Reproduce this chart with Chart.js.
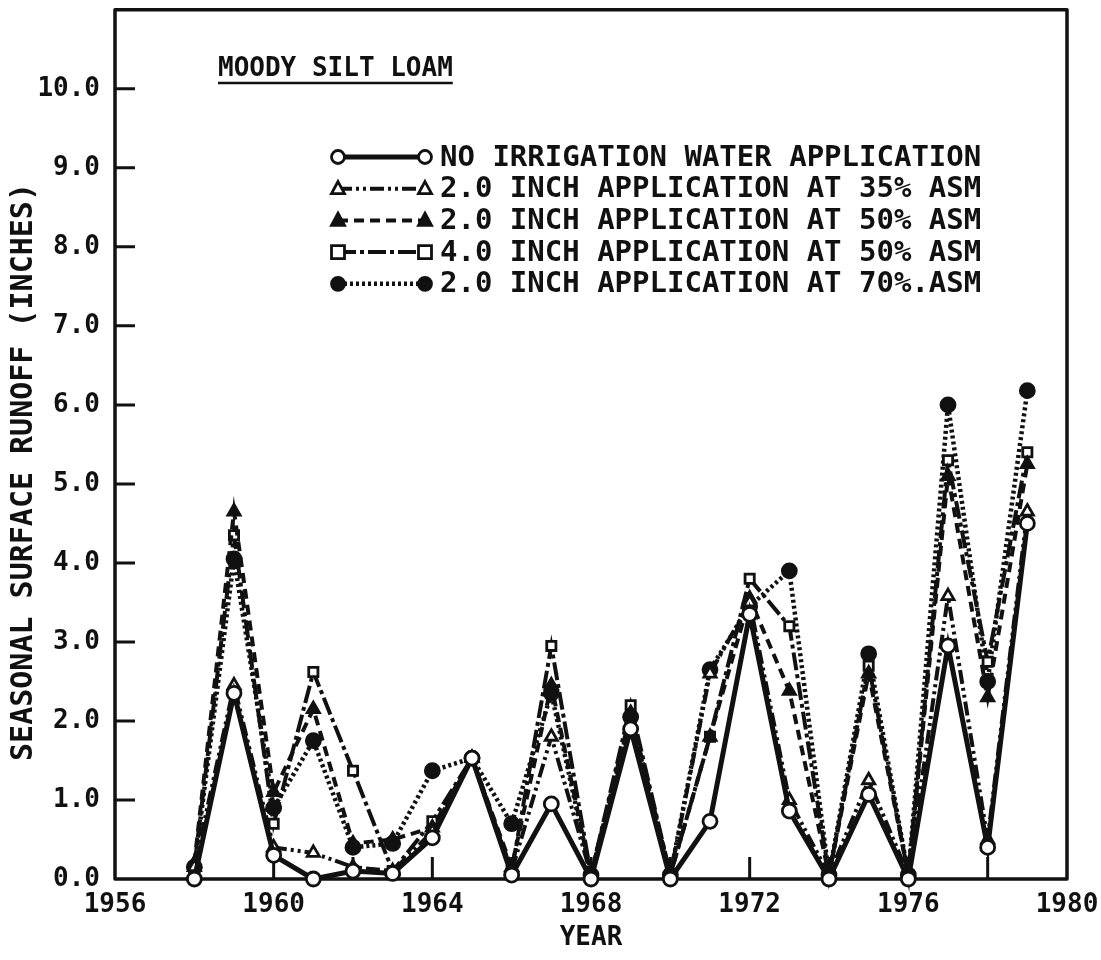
<!DOCTYPE html>
<html>
<head>
  <meta charset="UTF-8" />
  <title>Moody Silt Loam - Seasonal Surface Runoff</title>
  <script src="https://cdn.jsdelivr.net/npm/chart.js"></script>
  <style>
    body {
      margin: 0;
      background: #fff;
    }
  </style>
</head>
<body>
  <canvas id="runoff" width="1101" height="960"></canvas>

  <script>
    // seasonal runoff (inches) per year for each irrigation schedule
    const years = [1958, 1959, 1960, 1961, 1962, 1963, 1964, 1965, 1966, 1967, 1968,
                   1969, 1970, 1971, 1972, 1973, 1974, 1975, 1976, 1977, 1978, 1979];
    const noIrrigation = [0.0, 2.35, 0.3, 0.0, 0.1, 0.07, 0.52, 1.53, 0.05, 0.95, 0.0,
                          1.9, 0.0, 0.73, 3.35, 0.86, 0.0, 1.07, 0.0, 2.95, 0.4, 4.5];
    const twoInch35 = [0.15, 2.45, 0.4, 0.33, 0.15, 0.1, 0.6, 1.53, 0.1, 1.8, 0.05,
                       1.95, 0.05, 2.6, 3.5, 1.0, 0.05, 1.25, 0.05, 3.58, 0.5, 4.65];
    const twoInch50 = [0.2, 4.65, 1.1, 2.15, 0.45, 0.5, 0.65, 1.53, 0.15, 2.45, 0.05,
                       2.1, 0.05, 1.8, 3.55, 2.38, 0.05, 2.6, 0.05, 5.1, 2.3, 5.25];
    const fourInch50 = [0.15, 4.35, 0.7, 2.62, 1.37, 0.1, 0.73, 1.53, 0.1, 2.95, 0.05,
                        2.2, 0.05, 1.8, 3.8, 3.2, 0.05, 2.7, 0.05, 5.3, 2.75, 5.4];
    const twoInch70 = [0.15, 4.05, 0.9, 1.75, 0.4, 0.45, 1.37, 1.53, 0.7, 2.35, 0.05,
                       2.05, 0.05, 2.65, 3.45, 3.9, 0.05, 2.85, 0.05, 6.0, 2.5, 6.18];

    const seriesLabels = [
      'NO IRRIGATION WATER APPLICATION',
      '2.0 INCH APPLICATION AT 35% ASM',
      '2.0 INCH APPLICATION AT 50% ASM',
      '4.0 INCH APPLICATION AT 50% ASM',
      '2.0 INCH APPLICATION AT 70%.ASM'
    ];
    const xTickLabels = [1956, 1960, 1964, 1968, 1972, 1976, 1980];
    const yTickLabels = [0, 1, 2, 3, 4, 5, 6, 7, 8, 9, 10];
    const soilName = 'MOODY SILT LOAM';
    const yTitle = 'SEASONAL SURFACE RUNOFF (INCHES)';

    const INK = '#111';
    const FONT = '"DejaVu Sans Mono", monospace';

    function points(values) {
      return values.map((v, i) => ({ x: years[i], y: v }));
    }

    function series(label, values, shape, filled, width, dash) {
      return {
        label: label,
        data: points(values),
        borderColor: INK,
        borderWidth: width,
        borderDash: dash,
        pointStyle: shape,
        pointRadius: shape === 'rect' ? 6.5 : 7,
        pointBorderWidth: 2.8,
        pointBorderColor: INK,
        pointBackgroundColor: filled ? INK : '#fff',
        tension: 0,
        clip: false,
        mark: { shape: shape, filled: filled }
      };
    }

    function drawMarker(ctx, shape, filled, x, y, r) {
      ctx.save();
      ctx.setLineDash([]);
      ctx.lineWidth = 2.8;
      ctx.strokeStyle = INK;
      ctx.fillStyle = filled ? INK : '#fff';
      ctx.beginPath();
      if (shape === 'rect') {
        ctx.rect(x - r, y - r, 2 * r, 2 * r);
      } else if (shape === 'triangle') {
        ctx.moveTo(x, y - r * 1.1);
        ctx.lineTo(x + r, y + r * 0.75);
        ctx.lineTo(x - r, y + r * 0.75);
        ctx.closePath();
      } else {
        ctx.arc(x, y, r, 0, Math.PI * 2);
      }
      ctx.fill();
      ctx.stroke();
      ctx.restore();
    }

    // plot frame with inward tick marks, drawn under the lines
    const framePlugin = {
      id: 'frame',
      beforeDatasetsDraw(chart) {
        const { ctx, chartArea: a, scales } = chart;
        ctx.save();
        ctx.strokeStyle = INK;
        ctx.lineWidth = 3.5;
        ctx.lineJoin = 'round';
        ctx.strokeRect(a.left, a.top, a.right - a.left, a.bottom - a.top);

        ctx.lineWidth = 3;
        ctx.beginPath();
        scales.y.ticks.forEach(t => {
          if (t.value <= 10 && t.value > 0) {
            const py = scales.y.getPixelForValue(t.value);
            ctx.moveTo(a.left, py);
            ctx.lineTo(a.left + 20, py);
          }
        });
        scales.x.ticks.forEach(t => {
          if (t.value > 1956 && t.value < 1980) {
            const px = scales.x.getPixelForValue(t.value);
            ctx.moveTo(px, a.bottom);
            ctx.lineTo(px, a.bottom - 22);
          }
        });
        ctx.stroke();
        ctx.restore();
      }
    };

    // soil name, legend block and rotated y title
    const notesPlugin = {
      id: 'notes',
      afterDraw(chart) {
        const { ctx } = chart;
        ctx.save();
        ctx.fillStyle = INK;
        ctx.strokeStyle = INK;
        ctx.textBaseline = 'alphabetic';

        ctx.font = 'bold 26px ' + FONT;
        ctx.fillText(soilName, 218, 76);
        const w = ctx.measureText(soilName).width;
        ctx.lineWidth = 2.5;
        ctx.beginPath();
        ctx.moveTo(218, 83);
        ctx.lineTo(218 + w, 83);
        ctx.stroke();

        ctx.font = 'bold 29px ' + FONT;
        ctx.textBaseline = 'middle';
        chart.data.datasets.forEach((ds, i) => {
          const y = 157 + i * 31.7;
          const x0 = 338, x1 = 425;
          ctx.save();
          ctx.lineWidth = ds.borderWidth;
          ctx.setLineDash(ds.borderDash || []);
          ctx.beginPath();
          ctx.moveTo(x0, y);
          ctx.lineTo(x1, y);
          ctx.stroke();
          ctx.restore();
          drawMarker(ctx, ds.mark.shape, ds.mark.filled, x0, y, 6.5);
          drawMarker(ctx, ds.mark.shape, ds.mark.filled, x1, y, 6.5);
          ctx.fillText(ds.label, 440, y + 1);
        });

        ctx.translate(24, 472);
        ctx.rotate(-Math.PI / 2);
        ctx.textAlign = 'center';
        ctx.font = 'bold 30px ' + FONT;
        ctx.fillText(yTitle, 0, 0);
        ctx.restore();
      }
    };

    const tickFont = { family: FONT, size: 26, weight: 'bold' };

    new Chart(document.getElementById('runoff').getContext('2d'), {
      type: 'line',
      data: {
        datasets: [
          series(seriesLabels[0], noIrrigation, 'circle', false, 5, []),
          series(seriesLabels[1], twoInch35, 'triangle', false, 4, [14, 4, 3, 4, 3, 4]),
          series(seriesLabels[2], twoInch50, 'triangle', true, 4, [10, 6]),
          series(seriesLabels[3], fourInch50, 'rect', false, 4, [18, 4, 4, 4]),
          series(seriesLabels[4], twoInch70, 'circle', true, 4.5, [3, 3])
        ]
      },
      options: {
        responsive: false,
        animation: false,
        layout: { padding: { top: 7, right: 34, left: 0, bottom: 0 } },
        plugins: {
          legend: { display: false },
          tooltip: { enabled: false }
        },
        scales: {
          x: {
            type: 'linear',
            min: 1956,
            max: 1980,
            grid: { display: false },
            border: { display: false },
            ticks: {
              stepSize: 2,
              autoSkip: false,
              maxRotation: 0,
              padding: 3,
              color: INK,
              font: tickFont,
              callback: v => xTickLabels.includes(v) ? String(v) : ''
            },
            title: {
              display: true,
              text: 'YEAR',
              color: INK,
              font: { family: FONT, size: 26, weight: 'bold' },
              padding: { top: 4, bottom: 6 }
            },
            afterFit(scale) {
              scale.height = 81;
              scale.paddingLeft = 0;
              scale.paddingRight = 0;
            }
          },
          y: {
            min: 0,
            max: 11,
            grid: { display: false },
            border: { display: false },
            ticks: {
              stepSize: 1,
              autoSkip: false,
              padding: 7,
              color: INK,
              font: tickFont,
              callback: v => yTickLabels.includes(v) ? v.toFixed(1) : ''
            },
            afterFit(scale) {
              scale.width = 115;
              scale.paddingTop = 0;
              scale.paddingBottom = 0;
            }
          }
        }
      },
      plugins: [framePlugin, notesPlugin]
    });
  </script>
</body>
</html>
